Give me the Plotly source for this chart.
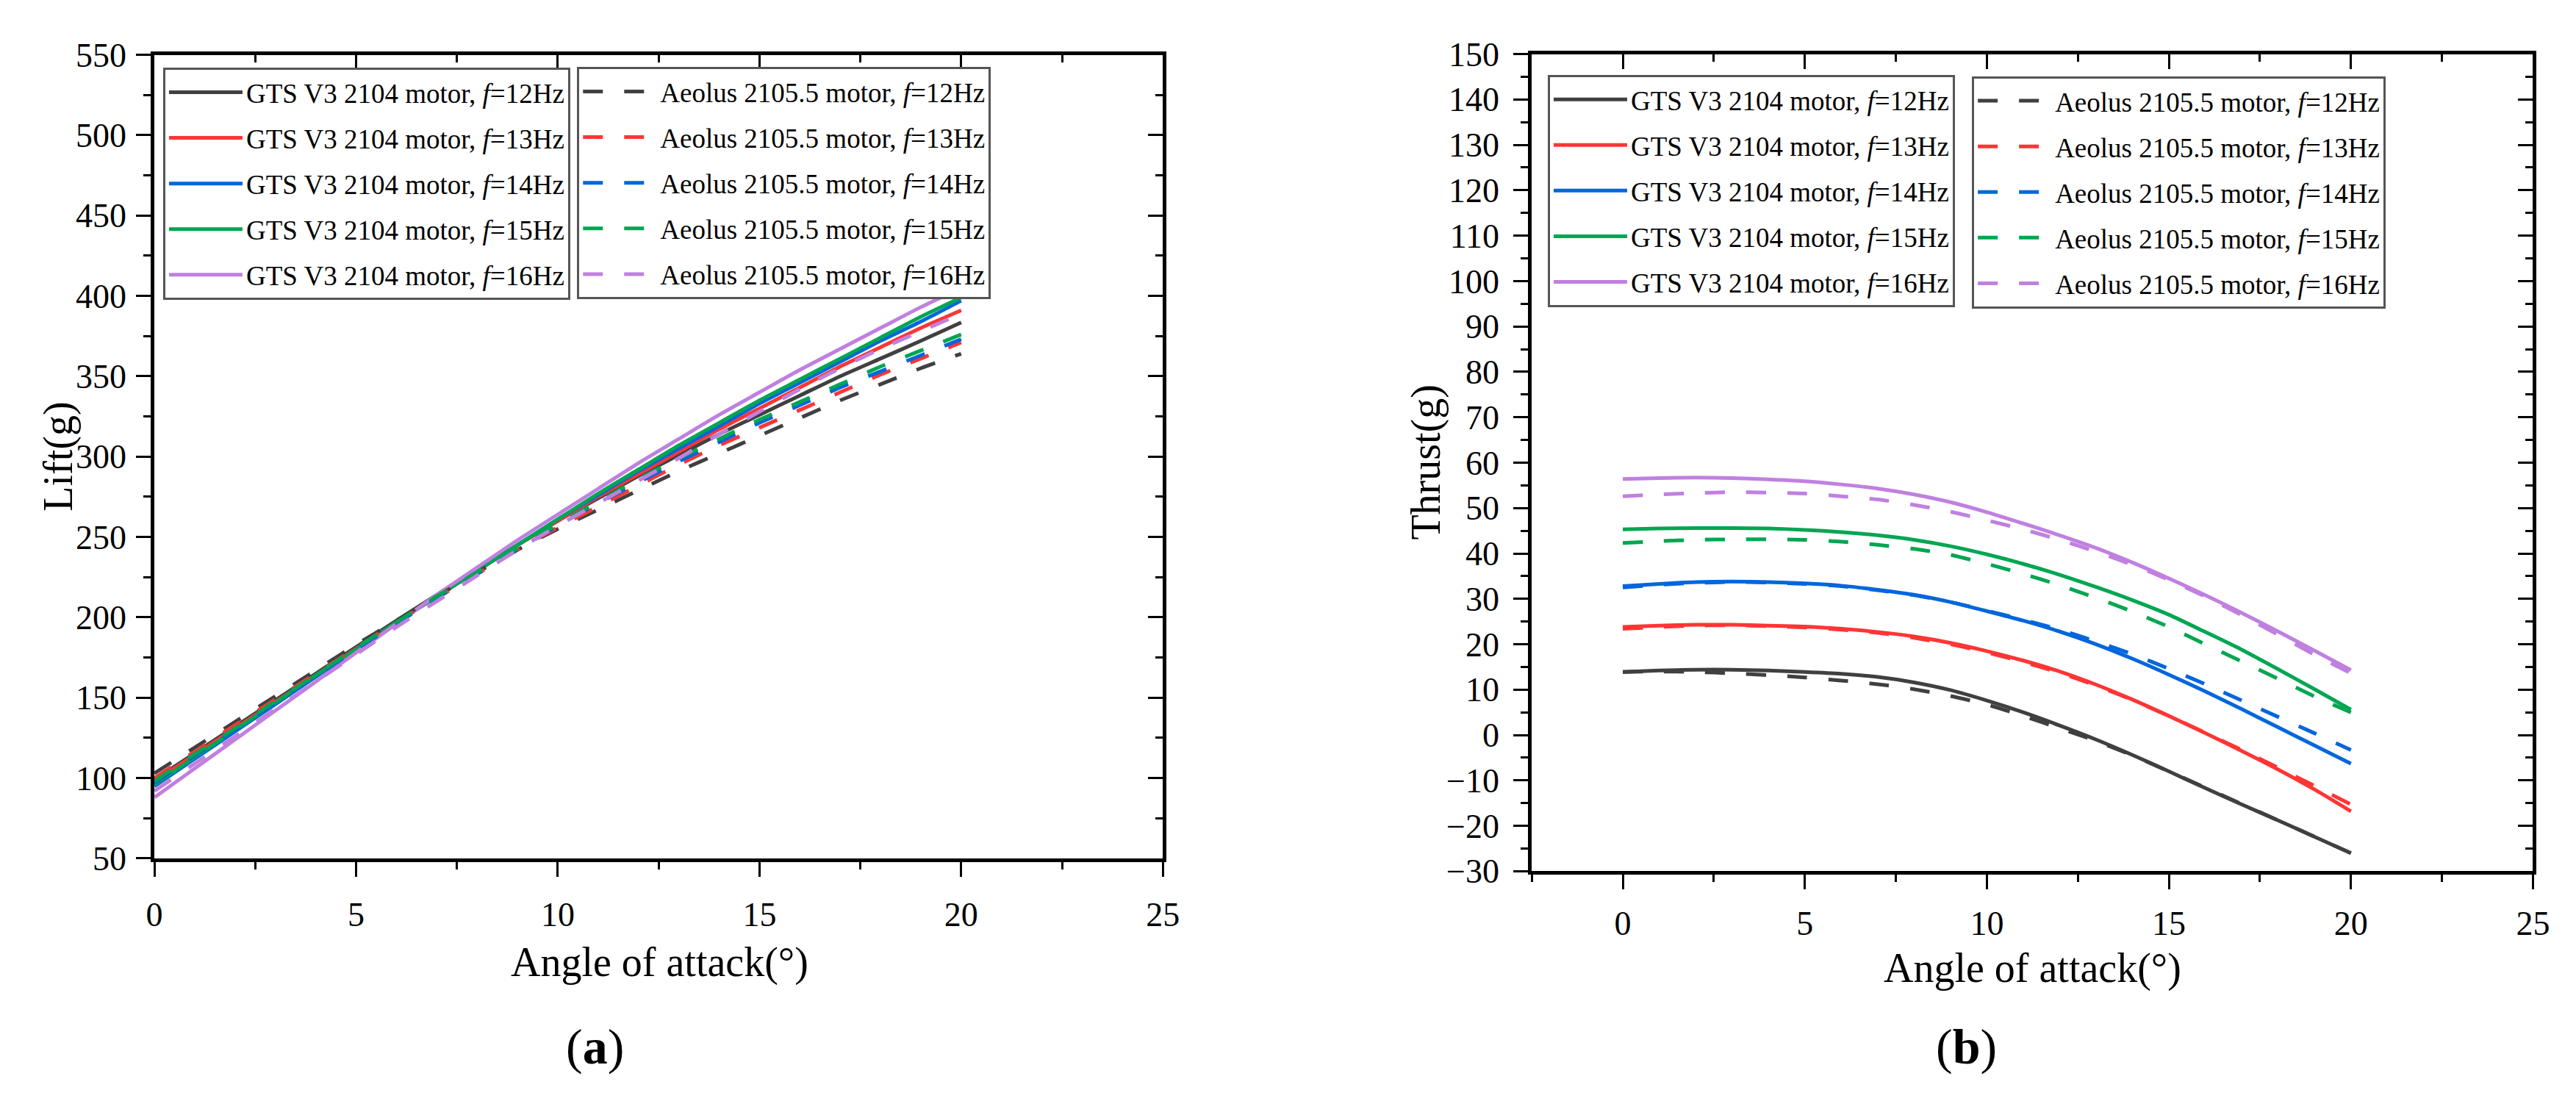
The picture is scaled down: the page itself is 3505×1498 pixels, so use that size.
import plotly.graph_objects as go

# ---------------- data ----------------
angle = list(range(0, 21))
freq_labels = ["12Hz", "13Hz", "14Hz", "15Hz", "16Hz"]
colors = ["#404040", "#FF3535", "#0066DD", "#00A651", "#C080E0"]

# Lift (g) - GTS V3 2104 motor
lift_gts_12 = [99, 115.5, 132, 148.5, 165, 181.5, 198, 214, 230, 245, 260, 274, 288, 301, 314, 326, 338, 350, 361, 372, 383.5]
lift_gts_13 = [98, 114.5, 131, 147.5, 164, 180.5, 197, 213, 229, 245, 260, 275, 289, 303, 317, 330, 343, 356, 368, 380, 391]
lift_gts_14 = [95, 112, 129, 146, 163, 180, 197, 213, 229, 245, 261, 276, 291, 305, 319, 333, 346, 359, 372, 384, 397]
lift_gts_15 = [96, 113, 130, 147, 164, 180, 197, 213, 229, 245, 261, 277, 292, 307, 321, 335, 348, 361, 374, 387, 399]
lift_gts_16 = [88, 106, 124, 142, 160, 178, 196, 214, 231, 248, 264, 280, 296, 311, 326, 340, 354, 367, 380, 393, 405]
# Lift (g) - Aeolus 2105.5 motor
lift_aeo_12 = [103, 119, 135, 151, 167, 183, 198, 213, 228, 242, 255, 267, 279, 291, 302, 313, 324, 335, 345, 355, 364]
lift_aeo_13 = [100, 116.5, 133, 149, 165, 181, 197, 212, 227, 242, 256, 269, 282, 295, 307, 318, 329, 340, 351, 361, 371]
lift_aeo_14 = [97, 114, 130, 147, 163, 180, 196, 212, 227, 242, 257, 271, 284, 297, 309, 321, 332, 343, 353, 363, 373]
lift_aeo_15 = [98, 115, 131, 148, 164, 181, 197, 213, 228, 243, 258, 272, 286, 299, 311, 323, 334, 345, 356, 366, 376]
lift_aeo_16 = [92, 109, 126, 143, 160, 177, 194, 210, 226, 242, 257, 271, 285, 299, 314, 328, 342, 355, 367, 378, 389]

# Thrust (g) - GTS V3 2104 motor
thr_gts_12 = [13.9, 14.2, 14.4, 14.4, 14.2, 13.9, 13.5, 12.8, 11.6, 9.9, 7.6, 5.0, 2.1, -1.0, -4.4, -8.0, -11.7, -15.3, -18.8, -22.4, -26.0]
thr_gts_13 = [23.8, 24.1, 24.3, 24.3, 24.1, 23.9, 23.4, 22.7, 21.7, 20.3, 18.5, 16.4, 14.0, 11.1, 7.8, 4.2, 0.4, -3.5, -7.6, -12.0, -16.8]
thr_gts_14 = [32.8, 33.3, 33.7, 33.8, 33.7, 33.4, 32.9, 32.0, 30.9, 29.3, 27.3, 25.2, 22.8, 20.0, 16.8, 13.3, 9.6, 5.7, 1.7, -2.3, -6.3]
thr_gts_15 = [45.3, 45.5, 45.6, 45.6, 45.5, 45.2, 44.7, 44.0, 43.0, 41.6, 39.8, 37.7, 35.3, 32.6, 29.7, 26.5, 22.7, 18.8, 14.5, 10.1, 5.6]
thr_gts_16 = [56.4, 56.6, 56.7, 56.6, 56.3, 55.9, 55.2, 54.3, 53.0, 51.3, 49.1, 46.6, 44.0, 41.2, 38.0, 34.5, 30.8, 26.9, 22.8, 18.6, 14.3]
# Thrust (g) - Aeolus 2105.5 motor
thr_aeo_12 = [13.9, 14.0, 13.9, 13.6, 13.2, 12.7, 12.0, 11.2, 10.1, 8.6, 6.7, 4.2, 1.5, -1.3, -4.5, -8.0, -11.6, -15.2, -18.8, -22.4, -26.0]
thr_aeo_13 = [23.4, 23.8, 24.1, 24.2, 24.0, 23.7, 23.2, 22.5, 21.4, 20.0, 18.2, 16.1, 13.7, 10.9, 7.7, 4.2, 0.5, -3.3, -7.2, -11.2, -15.3]
thr_aeo_14 = [32.5, 33.1, 33.5, 33.7, 33.6, 33.3, 32.8, 31.9, 30.8, 29.3, 27.4, 25.4, 23.2, 20.6, 17.8, 14.6, 11.2, 7.6, 4.0, 0.4, -3.3]
thr_aeo_15 = [42.3, 42.7, 43.0, 43.1, 43.1, 43.0, 42.6, 41.9, 41.0, 39.7, 37.7, 35.5, 33.0, 30.2, 27.2, 23.8, 20.0, 16.2, 12.4, 8.5, 5.0]
thr_aeo_16 = [52.6, 53.0, 53.3, 53.5, 53.4, 53.2, 52.6, 51.9, 50.7, 49.2, 47.3, 45.3, 43.0, 40.4, 37.5, 34.2, 30.5, 26.4, 22.1, 17.7, 13.6]

lift_gts = [lift_gts_12, lift_gts_13, lift_gts_14, lift_gts_15, lift_gts_16]
lift_aeo = [lift_aeo_12, lift_aeo_13, lift_aeo_14, lift_aeo_15, lift_aeo_16]
thr_gts = [thr_gts_12, thr_gts_13, thr_gts_14, thr_gts_15, thr_gts_16]
thr_aeo = [thr_aeo_12, thr_aeo_13, thr_aeo_14, thr_aeo_15, thr_aeo_16]

FONT = "Liberation Serif"
W, H = 3505, 1498
LW = 5
DASH = "27px,29px"

fig = go.Figure()

def add_set(series_list, prefix, dash, xa, ya, legend, grp):
    for i, ys in enumerate(series_list):
        fig.add_trace(go.Scatter(
            x=angle, y=ys, mode="lines",
            line=dict(color=colors[i], width=LW, dash=dash, shape="spline", smoothing=0.6),
            name=f"{prefix}, <i>f</i>={freq_labels[i]}",
            legend=legend, legendgroup=f"{grp}{i}",
            xaxis=xa, yaxis=ya, hoverinfo="skip"))

add_set(lift_gts, "GTS V3 2104 motor", "solid", "x", "y", "legend", "a")
add_set(lift_aeo, "Aeolus 2105.5 motor", DASH, "x", "y", "legend2", "b")
add_set(thr_gts, "GTS V3 2104 motor", "solid", "x2", "y2", "legend3", "c")
add_set(thr_aeo, "Aeolus 2105.5 motor", DASH, "x2", "y2", "legend4", "d")

# dummy traces for mirrored (inside-tick) frame axes
fig.add_trace(go.Scatter(x=[None], y=[None], xaxis="x3", yaxis="y3", showlegend=False, hoverinfo="skip"))
fig.add_trace(go.Scatter(x=[None], y=[None], xaxis="x4", yaxis="y4", showlegend=False, hoverinfo="skip"))

def px_x(p):
    return p / W

def px_y(p):
    return 1 - p / H

tickfont = dict(family=FONT, size=46, color="black")

def main_axis(rng, dtick, mdtick, domain, anchor, tick0=None, standoff=4):
    d = dict(range=rng, dtick=dtick, domain=domain, anchor=anchor,
             showline=True, linewidth=5, linecolor="black", mirror=False,
             ticks="outside", ticklen=20, tickwidth=3, tickcolor="black",
             minor=dict(ticks="outside", ticklen=10, tickwidth=3, tickcolor="black", dtick=mdtick, showgrid=False),
             showgrid=False, zeroline=False, tickfont=tickfont, ticklabelstandoff=standoff)
    if tick0 is not None:
        d["tick0"] = tick0
    return d

def frame_axis(rng, dtick, mdtick, overlay, side, anchor, tick0=None):
    d = dict(range=rng, dtick=dtick, overlaying=overlay, side=side, anchor=anchor,
             showline=True, linewidth=5, linecolor="black",
             ticks="inside", ticklen=20, tickwidth=3, tickcolor="black",
             minor=dict(ticks="inside", ticklen=10, tickwidth=3, tickcolor="black", dtick=mdtick, showgrid=False),
             showgrid=False, zeroline=False, showticklabels=False)
    if tick0 is not None:
        d["tick0"] = tick0
    return d

dom_x1 = [px_x(192), px_x(1578)]
dom_y1 = [px_y(1175), px_y(43)]
dom_x2 = [px_x(2085), px_x(3461)]
dom_y2 = [px_y(1193), px_y(42)]

legend_common = dict(font=dict(family=FONT, size=37, color="black"),
                     bgcolor="white", bordercolor="#555555", borderwidth=3,
                     xanchor="left", yanchor="top", itemwidth=100,
                     tracegroupgap=11, traceorder="grouped")

fig.update_layout(
    width=W, height=H,
    margin=dict(l=0, r=0, t=0, b=0),
    paper_bgcolor="white", plot_bgcolor="white",
    font=dict(family=FONT, color="black"),
    xaxis=main_axis([0, 25], 5, 2.5, dom_x1, "y", standoff=12),
    yaxis=main_axis([50, 550], 50, 25, dom_y1, "x", tick0=50),
    xaxis2=main_axis([-2.5, 25], 5, 2.5, dom_x2, "y2", tick0=0, standoff=6),
    yaxis2=main_axis([-30, 150], 10, 5, dom_y2, "x2", tick0=0, standoff=10),
    xaxis3=frame_axis([0, 25], 5, 2.5, "x", "top", "y"),
    yaxis3=frame_axis([50, 550], 50, 25, "y", "right", "x", tick0=50),
    xaxis4=frame_axis([-2.5, 25], 5, 2.5, "x2", "top", "y2", tick0=0),
    yaxis4=frame_axis([-30, 150], 10, 5, "y2", "right", "x2", tick0=0),
    legend=dict(x=px_x(204), y=px_y(61), **legend_common),
    legend2=dict(x=px_x(773), y=px_y(60), **legend_common),
    legend3=dict(x=px_x(2107), y=px_y(71), **legend_common),
    legend4=dict(x=px_x(2690), y=px_y(73), **legend_common),
)

title_font = dict(family=FONT, size=56, color="black")
ann = [
    dict(text="Angle of attack(°)", x=px_x(886), y=px_y(1322), xref="paper", yref="paper",
         showarrow=False, font=title_font, xanchor="center", yanchor="middle"),
    dict(text="Angle of attack(°)", x=px_x(2773), y=px_y(1330), xref="paper", yref="paper",
         showarrow=False, font=title_font, xanchor="center", yanchor="middle"),
    dict(text="Lift(g)", x=px_x(60), y=px_y(609), xref="paper", yref="paper", textangle=-90,
         showarrow=False, font=title_font, xanchor="center", yanchor="middle"),
    dict(text="Thrust(g)", x=px_x(1940), y=px_y(617), xref="paper", yref="paper", textangle=-90,
         showarrow=False, font=title_font, xanchor="center", yanchor="middle"),
    dict(text="(<b>a</b>)", x=px_x(797), y=px_y(1440), xref="paper", yref="paper",
         showarrow=False, font=dict(family=FONT, size=68, color="black"), xanchor="center", yanchor="middle"),
    dict(text="(<b>b</b>)", x=px_x(2682), y=px_y(1440), xref="paper", yref="paper",
         showarrow=False, font=dict(family=FONT, size=68, color="black"), xanchor="center", yanchor="middle"),
]
fig.update_layout(annotations=ann)

fig.write_html("out.html")
